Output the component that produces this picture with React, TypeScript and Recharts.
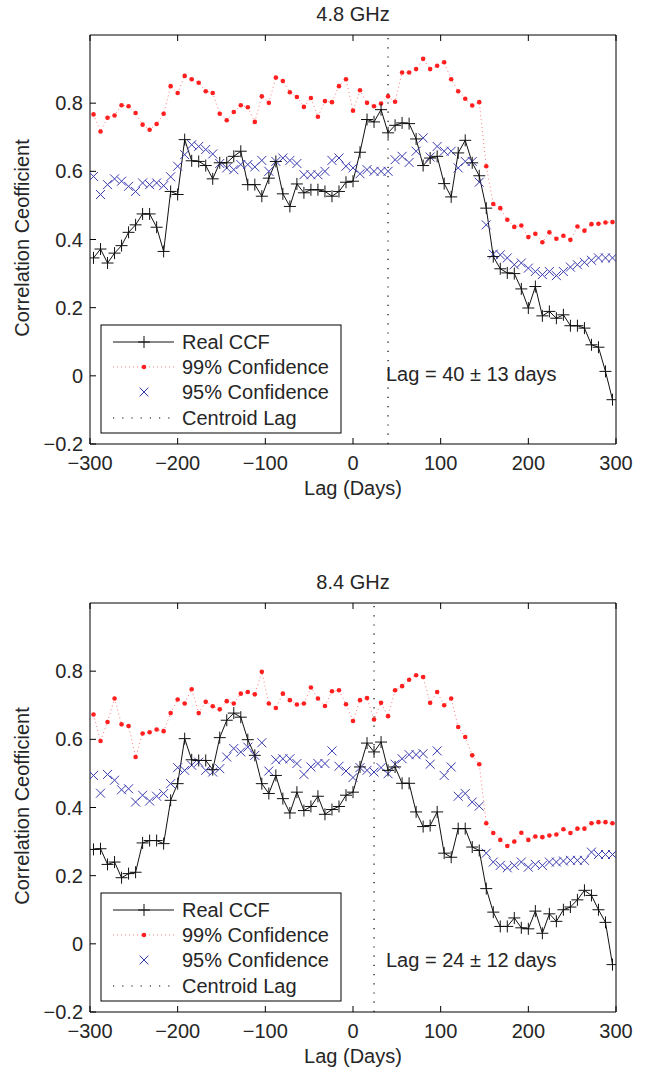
import { ComposedChart, Line, XAxis, YAxis, ReferenceLine } from 'recharts'

// lag grid (days)
const LAGS = [
  -296, -288, -280, -272, -264, -256, -248, -240, -232, -224, -216, -208, -200, -192, -184,
  -176, -168, -160, -152, -144, -136, -128, -120, -112, -104, -96, -88, -80, -72, -64,
  -56, -48, -40, -32, -24, -16, -8, 0, 8, 16, 24, 32, 40, 48, 56,
  64, 72, 80, 88, 96, 104, 112, 120, 128, 136, 144, 152, 160, 168, 176,
  184, 192, 200, 208, 216, 224, 232, 240, 248, 256, 264, 272, 280, 288, 296,
]

// 4.8 GHz
const CCF_48 = [
  0.346, 0.372, 0.331, 0.36, 0.382, 0.421, 0.443, 0.475, 0.475, 0.436, 0.365, 0.541, 0.532, 0.693, 0.631,
  0.629, 0.617, 0.578, 0.625, 0.625, 0.644, 0.659, 0.561, 0.561, 0.527, 0.58, 0.629, 0.534, 0.497, 0.563,
  0.537, 0.546, 0.546, 0.541, 0.527, 0.541, 0.568, 0.571, 0.656, 0.752, 0.745, 0.781, 0.713, 0.735, 0.742,
  0.74, 0.695, 0.617, 0.639, 0.644, 0.564, 0.525, 0.654, 0.691, 0.625, 0.587, 0.492, 0.35, 0.314, 0.302,
  0.3, 0.255, 0.199, 0.262, 0.176, 0.189, 0.169, 0.179, 0.147, 0.147, 0.14, 0.091, 0.084, 0.013, -0.07,
]
const C99_48 = [
  0.767, 0.717, 0.757, 0.764, 0.794, 0.791, 0.771, 0.737, 0.722, 0.739, 0.769, 0.85, 0.83, 0.88, 0.87,
  0.86, 0.835, 0.83, 0.769, 0.75, 0.774, 0.794, 0.788, 0.745, 0.82, 0.801, 0.875, 0.865, 0.832, 0.818,
  0.789, 0.815, 0.76, 0.806, 0.803, 0.85, 0.87, 0.778, 0.838, 0.801, 0.791, 0.799, 0.82, 0.804, 0.89,
  0.89, 0.9, 0.93, 0.9, 0.91, 0.92, 0.87, 0.835, 0.813, 0.793, 0.803, 0.615, 0.504, 0.492, 0.458,
  0.437, 0.441, 0.407, 0.417, 0.392, 0.421, 0.402, 0.411, 0.399, 0.438, 0.426, 0.445, 0.446, 0.45, 0.451,
]
const C95_48 = [
  0.585, 0.532, 0.561, 0.578, 0.571, 0.556, 0.541, 0.566, 0.561, 0.566, 0.558, 0.584, 0.615, 0.649, 0.678,
  0.673, 0.664, 0.651, 0.623, 0.61, 0.605, 0.62, 0.62, 0.613, 0.632, 0.6, 0.629, 0.639, 0.632, 0.623,
  0.59, 0.59, 0.59, 0.6, 0.632, 0.639, 0.615, 0.61, 0.593, 0.605, 0.6, 0.6, 0.6, 0.634, 0.644,
  0.626, 0.659, 0.698, 0.642, 0.673, 0.659, 0.659, 0.61, 0.629, 0.629, 0.568, 0.443, 0.357, 0.355, 0.346,
  0.326, 0.331, 0.316, 0.306, 0.297, 0.306, 0.294, 0.306, 0.319, 0.326, 0.333, 0.339, 0.346, 0.346, 0.346,
]

// 8.4 GHz
const CCF_84 = [
  0.277, 0.279, 0.233, 0.24, 0.194, 0.206, 0.21, 0.296, 0.303, 0.303, 0.294, 0.421, 0.47, 0.602, 0.54,
  0.538, 0.538, 0.511, 0.605, 0.656, 0.677, 0.665, 0.599, 0.553, 0.47, 0.441, 0.494, 0.426, 0.384, 0.445,
  0.391, 0.403, 0.433, 0.38, 0.394, 0.403, 0.436, 0.445, 0.519, 0.589, 0.563, 0.592, 0.509, 0.519, 0.471,
  0.471, 0.387, 0.344, 0.347, 0.387, 0.266, 0.254, 0.338, 0.338, 0.284, 0.274, 0.162, 0.093, 0.051, 0.051,
  0.076, 0.047, 0.044, 0.096, 0.031, 0.088, 0.066, 0.1, 0.108, 0.129, 0.157, 0.142, 0.1, 0.063, -0.061,
]
const C99_84 = [
  0.673, 0.595, 0.651, 0.72, 0.644, 0.639, 0.548, 0.617, 0.621, 0.629, 0.624, 0.677, 0.717, 0.705, 0.747,
  0.677, 0.71, 0.697, 0.688, 0.712, 0.705, 0.734, 0.739, 0.732, 0.798, 0.705, 0.692, 0.734, 0.715, 0.702,
  0.705, 0.752, 0.72, 0.698, 0.741, 0.744, 0.703, 0.654, 0.715, 0.721, 0.658, 0.707, 0.668, 0.744, 0.756,
  0.775, 0.788, 0.783, 0.707, 0.739, 0.7, 0.72, 0.636, 0.607, 0.553, 0.527, 0.354, 0.325, 0.305, 0.287,
  0.3, 0.326, 0.305, 0.315, 0.313, 0.318, 0.321, 0.336, 0.325, 0.338, 0.338, 0.354, 0.357, 0.357, 0.354,
]
const C95_84 = [
  0.494, 0.442, 0.497, 0.48, 0.452, 0.455, 0.416, 0.436, 0.419, 0.433, 0.441, 0.47, 0.517, 0.509, 0.524,
  0.533, 0.509, 0.504, 0.514, 0.548, 0.573, 0.563, 0.577, 0.553, 0.59, 0.507, 0.54, 0.543, 0.543, 0.529,
  0.497, 0.519, 0.529, 0.529, 0.566, 0.521, 0.507, 0.488, 0.517, 0.509, 0.504, 0.517, 0.499, 0.527, 0.543,
  0.555, 0.555, 0.558, 0.527, 0.566, 0.494, 0.519, 0.433, 0.441, 0.416, 0.404, 0.266, 0.24, 0.23, 0.223,
  0.23, 0.24, 0.225, 0.233, 0.23, 0.24, 0.24, 0.243, 0.245, 0.245, 0.245, 0.269, 0.262, 0.262, 0.262,
]

const X_TICKS = [-300, -200, -100, 0, 100, 200, 300]
const Y_TICKS = [-0.2, 0, 0.2, 0.4, 0.6, 0.8]

const FONT = '"Liberation Sans", Arial, Helvetica, sans-serif'
const INK = '#262626'
const RED = '#ff1f1f'
const BLUE = '#3a3ab0'

const fmt = (v: number) => (v < 0 ? '\u2212' + String(-v) : String(v))
const blank = () => ''

const plusPath = (x: number, y: number, r: number) => `M${x - r},${y}H${x + r}M${x},${y - r}V${y + r}`
const crossPath = (x: number, y: number, r: number) =>
  `M${x - r},${y - r}L${x + r},${y + r}M${x - r},${y + r}L${x + r},${y - r}`

const PlusDot = (p: any) => {
  if (p.cx == null || p.cy == null) return <g key={p.index} />
  return <path key={p.index} d={plusPath(p.cx, p.cy, 6)} stroke="#111" strokeWidth={1} fill="none" />
}
const CrossDot = (p: any) => {
  if (p.cx == null || p.cy == null) return <g key={p.index} />
  return <path key={p.index} d={crossPath(p.cx, p.cy, 4.5)} stroke={BLUE} strokeWidth={1} fill="none" />
}
const RedDot = (p: any) => {
  if (p.cx == null || p.cy == null) return <g key={p.index} />
  return <circle key={p.index} cx={p.cx} cy={p.cy} r={2.3} fill={RED} stroke="none" />
}

interface PanelProps {
  title: string
  ccf: number[]
  c99: number[]
  c95: number[]
  centroid: number
  lagText: string
  lagTextY: number
  top: number
}

function Panel({ title, ccf, c99, c95, centroid, lagText, lagTextY, top }: PanelProps) {
  const data = LAGS.map((lag, i) => ({ lag, ccf: ccf[i], c99: c99[i], c95: c95[i] }))
  const rows = [342, 367, 392, 418]

  return (
    <div style={{ position: 'absolute', left: 0, top, width: 645, height: 520 }}>
      <ComposedChart
        width={645}
        height={520}
        data={data}
        margin={{ top: 34, right: 28, bottom: 46, left: 0 }}
        style={{ fontFamily: FONT }}
      >
        <XAxis
          dataKey="lag"
          type="number"
          domain={[-300, 300]}
          ticks={X_TICKS}
          interval={0}
          allowDataOverflow
          tickFormatter={fmt}
          tickSize={-6}
          tickMargin={18}
          height={30}
          stroke="#000"
          tick={{ fontSize: 20, fill: INK }}
        />
        <XAxis
          xAxisId="top"
          orientation="top"
          dataKey="lag"
          type="number"
          domain={[-300, 300]}
          ticks={X_TICKS}
          interval={0}
          tickFormatter={blank}
          tickSize={-6}
          height={1}
          stroke="#000"
        />
        <YAxis
          type="number"
          domain={[-0.2, 1]}
          ticks={Y_TICKS}
          interval={0}
          allowDataOverflow
          tickFormatter={fmt}
          tickSize={-6}
          tickMargin={13}
          width={90}
          stroke="#000"
          tick={{ fontSize: 20, fill: INK }}
        />
        <YAxis
          yAxisId="right"
          orientation="right"
          type="number"
          domain={[-0.2, 1]}
          ticks={Y_TICKS}
          interval={0}
          tickFormatter={blank}
          tickSize={-6}
          width={1}
          stroke="#000"
        />
        <ReferenceLine x={centroid} stroke="#000" strokeWidth={1.2} strokeDasharray="1.2 8" />
        <Line
          dataKey="c99"
          stroke={RED}
          strokeOpacity={0.6}
          strokeWidth={1}
          strokeDasharray="1 3"
          dot={RedDot}
          activeDot={false}
          isAnimationActive={false}
        />
        <Line dataKey="c95" stroke="none" dot={CrossDot} activeDot={false} isAnimationActive={false} />
        <Line
          dataKey="ccf"
          stroke="#111"
          strokeWidth={1}
          dot={PlusDot}
          activeDot={false}
          isAnimationActive={false}
        />
      </ComposedChart>

      <svg
        width={645}
        height={520}
        style={{ position: 'absolute', left: 0, top: 0, pointerEvents: 'none', fontFamily: FONT }}
      >
        <text x={353} y={14} fontSize={20} fill={INK} textAnchor="middle" dominantBaseline="central">
          {title}
        </text>
        <text x={353} y={488} fontSize={20} fill={INK} textAnchor="middle" dominantBaseline="central">
          Lag (Days)
        </text>
        <text
          x={22}
          y={238}
          fontSize={20}
          fill={INK}
          textAnchor="middle"
          dominantBaseline="central"
          transform="rotate(-90 22 238)"
        >
          Correlation Ceofficient
        </text>
        <text x={386} y={lagTextY} fontSize={20} fill={INK} dominantBaseline="central">
          {lagText}
        </text>

        <rect x={101} y={325} width={240} height={108} fill="#fff" stroke="#000" strokeWidth={1} />
        <line x1={113} x2={174} y1={rows[0]} y2={rows[0]} stroke="#111" strokeWidth={1} />
        <path d={plusPath(144, rows[0], 6)} stroke="#111" strokeWidth={1} />
        <line x1={113} x2={174} y1={rows[1]} y2={rows[1]} stroke={RED} strokeOpacity={0.6} strokeDasharray="1 3" />
        <circle cx={144} cy={rows[1]} r={2.3} fill={RED} />
        <path d={crossPath(144, rows[2], 4.5)} stroke={BLUE} strokeWidth={1} />
        <line x1={113} x2={174} y1={rows[3]} y2={rows[3]} stroke="#000" strokeWidth={1.2} strokeDasharray="1.2 8" />
        {['Real CCF', '99% Confidence', '95% Confidence', 'Centroid Lag'].map((t, i) => (
          <text key={t} x={182} y={rows[i]} fontSize={20} fill={INK} dominantBaseline="central">
            {t}
          </text>
        ))}
      </svg>
    </div>
  )
}

export default function App() {
  return (
    <div style={{ position: 'absolute', left: 0, top: 0, width: 645, height: 1070, background: '#fff' }}>
      <Panel
        title="4.8 GHz"
        ccf={CCF_48}
        c99={C99_48}
        c95={C95_48}
        centroid={40}
        lagText="Lag = 40 ± 13 days"
        lagTextY={374}
        top={0}
      />
      <Panel
        title="8.4 GHz"
        ccf={CCF_84}
        c99={C99_84}
        c95={C95_84}
        centroid={24}
        lagText="Lag = 24 ± 12 days"
        lagTextY={392}
        top={568}
      />
    </div>
  )
}
